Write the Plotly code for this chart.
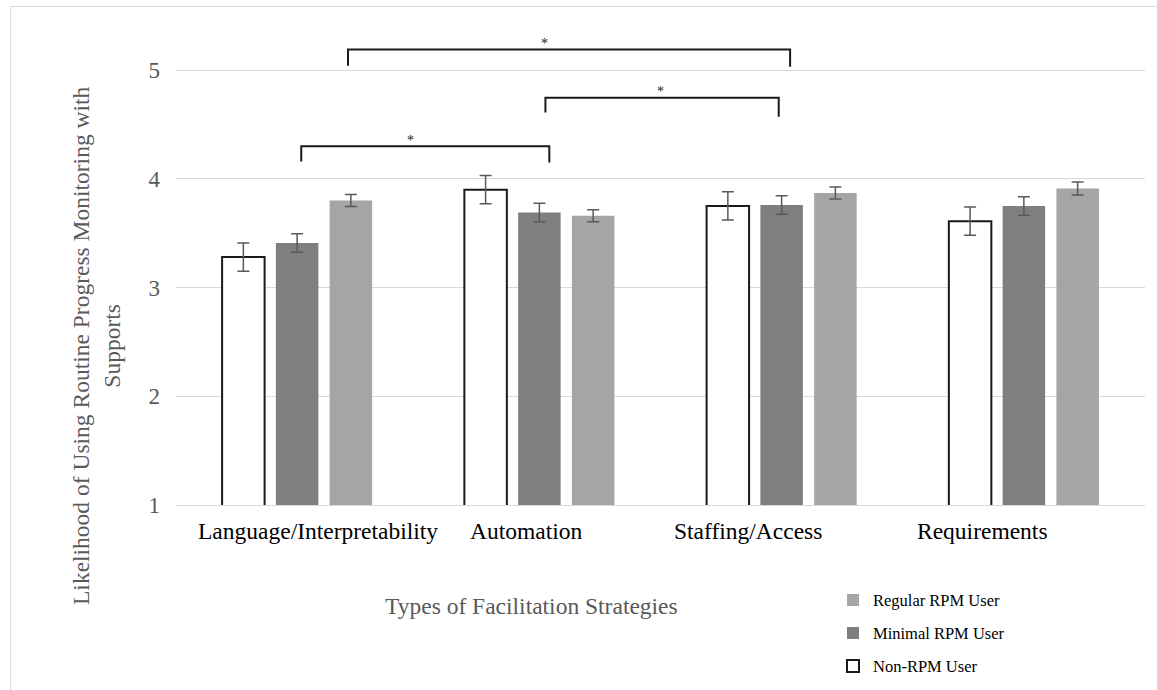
import plotly.graph_objects as go

# ---------------- data ----------------
categories = ["Language/Interpretability", "Automation", "Staffing/Access", "Requirements"]
series_names = ["Non-RPM User", "Minimal RPM User", "Regular RPM User"]
non_rpm = [3.28, 3.90, 3.75, 3.61]
minimal_rpm = [3.41, 3.69, 3.76, 3.75]
regular_rpm = [3.80, 3.66, 3.87, 3.91]
non_rpm_err = [0.13, 0.13, 0.13, 0.13]
minimal_rpm_err = [0.085, 0.085, 0.085, 0.085]
regular_rpm_err = [0.055, 0.055, 0.055, 0.06]
y_ticks = [1, 2, 3, 4, 5]
y_title = "Likelihood of Using Routine Progress Monitoring with<br>Supports"
x_title = "Types of Facilitation Strategies"
# significance brackets: (left x, right x, top y, left foot y, right foot y, star x)
brackets = [
    (0.017, 1.041, 4.30, 4.16, 4.15, 0.47),
    (1.025, 1.988, 4.745, 4.61, 4.57, 1.50),
    (0.210, 2.035, 5.19, 5.04, 5.03, 1.02),
]

# ---------------- style ----------------
FONT = "Liberation Serif, Times New Roman, serif"
GRAY_TXT = "#595959"
label_shift = [21, -13, -34, -41]   # category label offsets in px

fig = go.Figure()
fig.add_trace(go.Bar(
    name=series_names[0], x=categories, y=non_rpm, legendrank=3, legendgroup="g3",
    marker=dict(color="white", line=dict(color="#1a1a1a", width=2)),
    error_y=dict(type="data", array=non_rpm_err, color=GRAY_TXT, thickness=1.5, width=6),
))
fig.add_trace(go.Bar(
    name=series_names[1], x=categories, y=minimal_rpm, legendrank=2, legendgroup="g2",
    marker=dict(color="#7f7f7f", line=dict(width=0)),
    error_y=dict(type="data", array=minimal_rpm_err, color=GRAY_TXT, thickness=1.5, width=6),
))
fig.add_trace(go.Bar(
    name=series_names[2], x=categories, y=regular_rpm, legendrank=1, legendgroup="g1",
    marker=dict(color="#a5a5a5", line=dict(width=0)),
    error_y=dict(type="data", array=regular_rpm_err, color=GRAY_TXT, thickness=1.5, width=6),
))

shapes = []
annotations = []
for (x0, x1, yt, yl, yr, xs) in brackets:
    shapes.append(dict(type="path", xref="x", yref="y",
                       path=f"M {x0},{yl} L {x0},{yt} L {x1},{yt} L {x1},{yr}",
                       line=dict(color="#1a1a1a", width=2)))
    annotations.append(dict(x=xs, y=yt, xref="x", yref="y", text="*", showarrow=False,
                            yanchor="middle", yshift=6,
                            font=dict(family=FONT, size=14, color="#1a1a1a")))

for i, cat in enumerate(categories):
    annotations.append(dict(x=i, y=0, xref="x", yref="paper", text=cat, showarrow=False,
                            xanchor="center", yanchor="middle", xshift=label_shift[i], yshift=-26,
                            font=dict(family=FONT, size=23.5, color="#000000")))

annotations.append(dict(x=0.3665, y=0, xref="paper", yref="paper", text=x_title, showarrow=False,
                        xanchor="center", yanchor="middle", yshift=-101,
                        font=dict(family=FONT, size=23.5, color=GRAY_TXT)))
annotations.append(dict(x=0, y=0.5, xref="paper", yref="paper", text=y_title, showarrow=False,
                        textangle=-90, xanchor="center", yanchor="middle", xshift=-79.5, yshift=-77,
                        font=dict(family=FONT, size=23.5, color=GRAY_TXT)))

# outer chart frame
shapes.append(dict(type="rect", xref="paper", yref="paper", x0=-0.1706, x1=1.05, y0=-0.5, y1=1.054,
                   line=dict(color="#d9d9d9", width=1), layer="below"))

fig.update_layout(
    width=1157, height=690,
    margin=dict(l=175.5, r=11.5, t=32, b=185, autoexpand=False),
    paper_bgcolor="white", plot_bgcolor="white",
    barmode="group", bargap=0.334, bargroupgap=0.21,
    font=dict(family=FONT, color=GRAY_TXT),
    showlegend=True,
    legend=dict(x=0.678, y=-0.1644, xanchor="left", yanchor="top",
                traceorder="grouped", tracegroupgap=8.5,
                font=dict(family=FONT, size=16.5, color="#000000"),
                bgcolor="rgba(0,0,0,0)"),
    xaxis=dict(showticklabels=False, showgrid=False, showline=True, linecolor="#d9d9d9",
               linewidth=1, ticks="", range=[-0.5, 3.5], automargin=False),
    yaxis=dict(range=[1, 5.35], tickvals=y_ticks, showgrid=True, gridcolor="#d9d9d9", gridwidth=1,
               zeroline=False, showline=False, ticks="", ticklabelstandoff=15, automargin=False,
               tickfont=dict(family=FONT, size=23, color=GRAY_TXT)),
    shapes=shapes, annotations=annotations,
)

fig.write_html("out.html", config={"displayModeBar": False},
               post_script="document.body.style.margin='0';document.body.style.overflow='hidden';")
